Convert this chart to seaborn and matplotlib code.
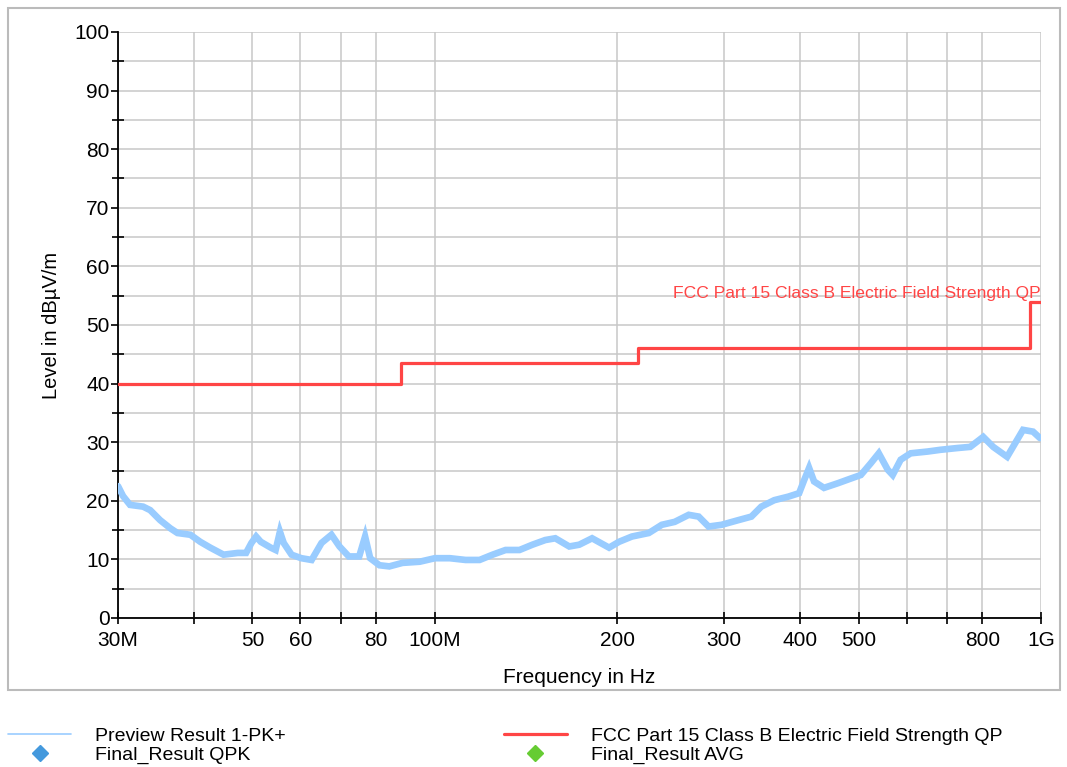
import matplotlib
matplotlib.use("Agg")
import matplotlib.pyplot as plt
import seaborn as sns
import pandas as pd
from matplotlib.lines import Line2D
from matplotlib.patches import Rectangle
from matplotlib.ticker import FixedLocator, NullFormatter, MultipleLocator

# Peak preview scan (frequency in MHz, level in dBuV/m)
freq_mhz = [30.0, 30.58, 31.4, 33.0, 33.9, 35.2, 36.6, 37.6, 39.5, 41.0, 42.6, 44.8,
            47.3, 48.8, 49.8, 50.7, 51.6, 53.6, 54.6, 55.5, 56.3, 58.0, 60.2, 62.6,
            65.0, 67.5, 69.6, 72.1, 75.0, 76.7, 78.2, 81.0, 84.1, 88.4, 94.4, 100.0,
            105.8, 112.4, 118.5, 124.5, 130.8, 137.9, 144.8, 152.1, 158.0, 166.6,
            173.0, 181.7, 193.8, 201.3, 211.4, 225.4, 236.8, 248.7, 262.3, 272.4,
            282.8, 297.2, 316.8, 332.8, 345.6, 363.0, 382.8, 399.0, 406.6, 414.4,
            422.3, 438.5, 462.4, 485.7, 504.4, 523.8, 540.0, 558.7, 569.3, 586.8,
            609.4, 649.9, 682.7, 727.9, 764.5, 803.0, 834.0, 879.4, 906.3, 934.1,
            970.2, 996.3]
level_pk = [22.5, 20.8, 19.3, 19.0, 18.4, 16.7, 15.3, 14.5, 14.2, 13.0, 12.0, 10.8,
            11.1, 11.1, 12.8, 13.9, 13.0, 12.0, 11.6, 14.7, 12.8, 10.8, 10.2, 9.9,
            12.8, 14.2, 12.2, 10.5, 10.5, 13.9, 10.2, 9.0, 8.8, 9.4, 9.6, 10.2,
            10.2, 9.9, 9.9, 10.8, 11.6, 11.6, 12.5, 13.3, 13.6, 12.2,
            12.5, 13.6, 12.0, 13.0, 13.9, 14.5, 15.9, 16.4, 17.6, 17.3,
            15.6, 15.9, 16.7, 17.3, 19.0, 20.1, 20.7, 21.3, 23.5, 25.6,
            23.3, 22.2, 23.0, 23.8, 24.4, 26.4, 28.1, 25.3, 24.4, 27.0,
            28.1, 28.4, 28.7, 29.0, 29.2, 30.9, 29.2, 27.5, 29.8, 32.1,
            31.8, 30.7]

# FCC Part 15 Class B radiated limit (step corners)
limit_freq_mhz = [30, 88, 88, 216, 216, 960, 960, 1000]
limit_level = [40, 40, 43.5, 43.5, 46, 46, 54, 54]

# Axis ticks
x_ticks_mhz = [30, 40, 50, 60, 70, 80, 100, 200, 300, 400, 500, 600, 700, 800, 1000]
x_tick_labels = ["30M", "", "50", "60", "", "80", "100M", "200", "300", "400", "500",
                 "", "", "800", "1G"]

trace_color = "#99CCFF"
limit_color = "#FF4545"
limit_name = "FCC Part 15 Class B Electric Field Strength QP"

sns.set_theme(style="white")
plt.rcParams["font.family"] = ["Liberation Sans", "DejaVu Sans"]
plt.rcParams["text.color"] = "black"
plt.rcParams["axes.labelcolor"] = "black"
plt.rcParams["xtick.color"] = "black"
plt.rcParams["ytick.color"] = "black"

fig = plt.figure(figsize=(10.67, 7.67), dpi=100)
ax = fig.add_axes([0.1106, 0.1943, 0.9756 - 0.1106, 0.9583 - 0.1943])

pk = pd.DataFrame({"f": [v * 1e6 for v in freq_mhz], "lvl": level_pk})
lim = pd.DataFrame({"f": [v * 1e6 for v in limit_freq_mhz], "lvl": limit_level})

sns.lineplot(data=pk, x="f", y="lvl", ax=ax, color=trace_color, lw=4.8,
             estimator=None, sort=False, solid_joinstyle="miter", zorder=3)
sns.lineplot(data=lim, x="f", y="lvl", ax=ax, color=limit_color, lw=2.3,
             estimator=None, sort=False, zorder=4)

ax.set_xscale("log")
ax.set_xlim(30e6, 1000e6)
ax.set_ylim(0, 100)

ax.xaxis.set_major_locator(FixedLocator([v * 1e6 for v in x_ticks_mhz]))
ax.xaxis.set_minor_locator(FixedLocator([]))
ax.set_xticklabels(x_tick_labels)
ax.xaxis.set_minor_formatter(NullFormatter())
ax.yaxis.set_major_locator(MultipleLocator(10))
ax.yaxis.set_minor_locator(MultipleLocator(5))

ax.grid(True, which="both", color="#C8C8C8", lw=1.1)
ax.set_axisbelow(True)
for side in ("top", "right"):
    ax.spines[side].set_visible(False)
for side in ("left", "bottom"):
    ax.spines[side].set_color("black")
    ax.spines[side].set_linewidth(1.3)

ax.tick_params(axis="x", which="major", direction="inout", length=9, width=1.2,
               color="black", labelsize=15, pad=5, bottom=True)
ax.tick_params(axis="y", which="major", direction="out", length=5, width=1.2,
               color="black", labelsize=15, pad=1, left=True)
ax.tick_params(axis="y", which="minor", direction="inout", length=8, width=1.2,
               color="black", left=True)

ax.set_xlabel("Frequency in Hz", fontsize=15, labelpad=13)
ax.set_ylabel("Level in dB\u00b5V/m", fontsize=14.5, labelpad=10)

ax.text(1.0, 54.1, limit_name, transform=ax.get_yaxis_transform(),
        color=limit_color, fontsize=12.6, ha="right", va="bottom")

# Frame around the chart area
fig.patches.append(Rectangle((0.0075, 0.1004), 0.9859, 0.8892, transform=fig.transFigure,
                             fill=False, edgecolor="#BBBBBB", lw=1.5))

handles = [
    Line2D([], [], color=trace_color, lw=1.2),
    Line2D([], [], color="#4499DD", marker="D", ls="none", markersize=8),
    Line2D([], [], color=limit_color, lw=2.3),
    Line2D([], [], color="#66CC33", marker="D", ls="none", markersize=8),
]
labels = ["Preview Result 1-PK+", "Final_Result QPK", limit_name, "Final_Result AVG"]
fig.legend(handles, labels, loc="upper left", bbox_to_anchor=(0.0075, 0.052),
           ncol=2, frameon=False, fontsize=14, handlelength=3.25,
           labelspacing=0.08, columnspacing=11.2, handletextpad=1.24,
           borderaxespad=0, borderpad=0)

fig.savefig("out.png", dpi=100, facecolor="white")
